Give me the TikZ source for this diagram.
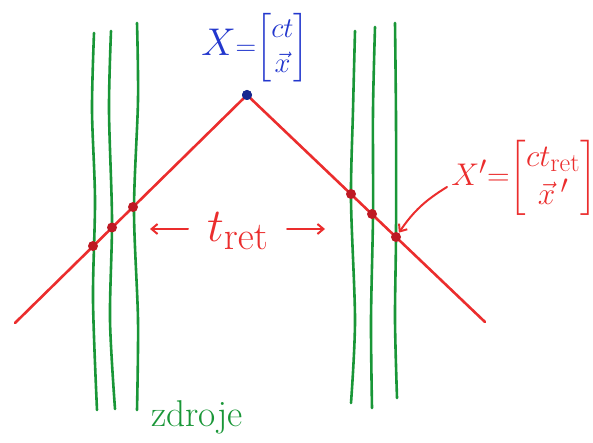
\documentclass[tikz,border=0pt]{standalone}
\usepackage{amsmath}
\usepackage{graphicx}
\usetikzlibrary{arrows.meta}
\definecolor{pgreen}{RGB}{25,150,55}
\definecolor{pred}{RGB}{235,45,45}
\definecolor{pdot}{RGB}{190,25,35}
\definecolor{pblue}{RGB}{35,55,205}
\tikzset{
  src/.style={draw=pgreen, line width=2.6pt, line cap=round},
  wl/.style={draw=pred, line width=2.6pt, line cap=round, line join=round},
  evdot/.style={circle, fill=pdot, minimum size=10pt, inner sep=0pt},
  apexdot/.style={circle, fill=pblue!70!black, minimum size=10pt, inner sep=0pt},
  lab/.style={inner sep=0pt},
  arr/.style={draw=pred, line width=2pt, line cap=round, -{Straight Barb[length=6pt,width=10pt]}}
}
\begin{document}
\begin{tikzpicture}[x=1pt,y=-1pt]
\useasboundingbox (0,0) rectangle (593,443);
% source world lines
\draw[src] plot[smooth] coordinates {(94,33) (92,110) (95,200) (93,300) (97,410)};
\draw[src] plot[smooth] coordinates {(111,31) (109,110) (112,220) (110,320) (115,409)};
\draw[src] plot[smooth] coordinates {(137,23) (138,100) (134,210) (138,320) (137,410)};
\draw[src] plot[smooth] coordinates {(355,31) (353,110) (351,200) (355,320) (351,403)};
\draw[src] plot[smooth] coordinates {(375,27) (373,110) (373,215) (371,320) (372,408)};
\draw[src] plot[smooth] coordinates {(395,23) (396,120) (396,235) (395,320) (397,398)};
% light cone
\coordinate (L) at (15,323);
\node[apexdot] (A) at (247,95) {};
\coordinate (R) at (485,322);
\draw[wl] (L) -- (A.center) -- (R);
\node[evdot] (l1) at (93,246) {};
\node[evdot] (l2) at (112,227.5) {};
\node[evdot] (l3) at (133,207) {};
\node[evdot] (r1) at (351,194) {};
\node[evdot] (r2) at (372,214) {};
\node[evdot] (r3) at (396,237) {};
\node[apexdot] at (247,95) {};
% labels
\node[lab, text=pblue] (X) at (255,48) {\scalebox{1.15}{\Huge $\scalebox{1.35}{$X$}{=}\!\begin{bmatrix}ct\\ \vec{x}\end{bmatrix}$}};
\node[lab, text=pred] (Xp) at (524,178) {\scalebox{1.26}{\Huge $X'{=}\!\begin{bmatrix}ct_{\mathrm{ret}}\\ \vec{x}\,'\end{bmatrix}$}};
\coordinate (xa) at (447,187);
\draw[arr] (xa) to[bend right=12] (r3);
\node[lab, text=pred] (tr) at (238,231) {\scalebox{1.9}{\Huge $t_{\mathrm{ret}}$}};
\coordinate (ta) at (188,229);
\coordinate (tb) at (150,229);
\coordinate (tc) at (287,229);
\coordinate (td) at (325,229);
\draw[arr] (ta) -- (tb);
\draw[arr] (tc) -- (td);
\node[lab, text=pgreen] (zd) at (197,417) {\scalebox{1.5}{\Huge zdroje}};
\end{tikzpicture}
\end{document}
